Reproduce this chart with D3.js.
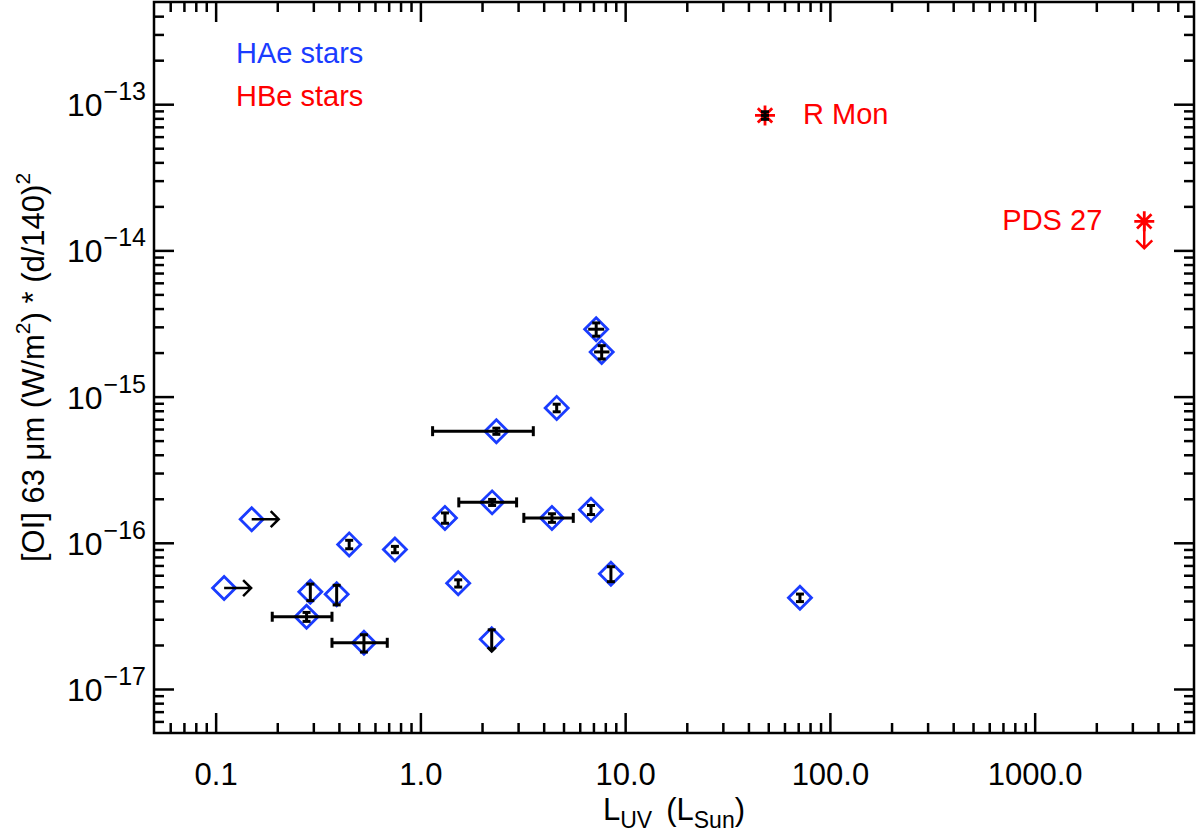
<!DOCTYPE html>
<html><head><meta charset="utf-8">
<script src="https://cdn.jsdelivr.net/npm/d3@7"></script>
<style>body{margin:0;background:#fff}svg text{font-family:"Liberation Sans",Arial,sans-serif}</style>
</head><body>
<svg id="c" width="1196" height="838"></svg>
<script>
// ---------- data ----------
const haeX    = [0.110, 0.150, 0.290, 0.278, 0.390, 0.449, 0.751, 0.530, 1.318, 1.53, 2.23, 2.24, 2.35, 4.39, 4.63, 6.81, 7.22, 7.68, 8.52, 71.4];
const haeY    = [4.9e-17, 1.45e-16, 4.62e-17, 3.12e-17, 4.44e-17, 9.75e-17, 9.0e-17, 2.07e-17, 1.48e-16, 5.28e-17, 2.19e-17, 1.89e-16, 5.80e-16, 1.48e-16, 8.37e-16, 1.68e-16, 2.89e-15, 2.02e-15, 6.14e-17, 4.21e-17];
const haeYErr = [0, 0, 0.6e-17, 0.22e-17, 0.68e-17, 0.65e-17, 0.45e-17, 0.28e-17, 0.12e-16, 0.3e-17, 0.35e-17, 0.09e-16, 0.28e-16, 0.1e-16, 0.5e-16, 0.12e-16, 0.3e-15, 0.21e-15, 0.72e-17, 0.25e-17];
const haeXLo  = [null, null, null, 0.189, null, null, null, 0.370, null, null, null, 1.54, 1.147, 3.20, null, null, 6.60, 7.05, null, null];
const haeXHi  = [null, null, null, 0.370, null, null, null, 0.689, null, null, null, 2.95, 3.56, 5.58, null, null, 7.90, 8.38, null, null];
const haeLimit = ["xlow", "xlow", "", "", "", "", "", "", "", "", "yup", "", "", "", "", "", "", "", "", ""];

const hbeNames = ["R Mon", "PDS 27"];
const hbeX     = [48.2, 3430];
const hbeY     = [8.38e-14, 1.58e-14];
const hbeYErr  = [0.5e-14, 0];
const hbeXLo   = [46.0, null];
const hbeXHi   = [50.4, null];
const hbeLimit = ["", "yup"];

const xMajor = [0.1, 1, 10, 100, 1000];
const xMajorLabels = ["0.1", "1.0", "10.0", "100.0", "1000.0"];
const yMajor = [1e-17, 1e-16, 1e-15, 1e-14, 1e-13];
const yMajorExp = ["−17", "−16", "−15", "−14", "−13"];
const legendLabels = ["HAe stars", "HBe stars"];

// ---------- layout ----------
const L = 154, R = 1194, T = 2, B = 733;
const blue = "#1a3cff", red = "#ff0000";
const svg = d3.select("#c");
const x = d3.scaleLog().domain([0.05, 6000]).range([L, R]);
const y = d3.scaleLog().domain([5e-18, 5e-13]).range([B, T]);

function minors(dom) {
  const out = [];
  for (let e = -20; e <= 5; e++) for (let m = 2; m <= 9; m++) {
    const v = m * Math.pow(10, e);
    if (v > dom[0] * 1.0001 && v < dom[1] * 0.9999) out.push(v);
  }
  return out;
}
const xMinor = minors(x.domain()), yMinor = minors(y.domain());

function styleAxis(g) {
  g.select(".domain").remove();
  g.selectAll("line").attr("stroke", "#000").attr("stroke-width", 2.5);
}
// bottom
svg.append("g").attr("transform", `translate(0,${B})`)
  .call(d3.axisBottom(x).tickValues(xMajor).tickSize(-20).tickFormat((d, i) => xMajorLabels[i]))
  .call(styleAxis)
  .call(g => g.selectAll("text").attr("y", 52).attr("dy", null).attr("font-size", 31).attr("fill", "#000"));
svg.append("g").attr("transform", `translate(0,${B})`)
  .call(d3.axisBottom(x).tickValues(xMinor).tickSize(-10).tickFormat("")).call(styleAxis);
// top
svg.append("g").attr("transform", `translate(0,${T})`)
  .call(d3.axisTop(x).tickValues(xMajor).tickSize(-20).tickFormat("")).call(styleAxis);
svg.append("g").attr("transform", `translate(0,${T})`)
  .call(d3.axisTop(x).tickValues(xMinor).tickSize(-10).tickFormat("")).call(styleAxis);
// left
svg.append("g").attr("transform", `translate(${L},0)`)
  .call(d3.axisLeft(y).tickValues(yMajor).tickSize(-20).tickFormat(""))
  .call(styleAxis);
svg.append("g").attr("transform", `translate(${L},0)`)
  .call(d3.axisLeft(y).tickValues(yMinor).tickSize(-10).tickFormat("")).call(styleAxis);
// right
svg.append("g").attr("transform", `translate(${R},0)`)
  .call(d3.axisRight(y).tickValues(yMajor).tickSize(-20).tickFormat("")).call(styleAxis);
svg.append("g").attr("transform", `translate(${R},0)`)
  .call(d3.axisRight(y).tickValues(yMinor).tickSize(-10).tickFormat("")).call(styleAxis);

// y tick labels with superscripts
yMajor.forEach((v, i) => {
  const t = svg.append("text").attr("x", 146).attr("y", y(v) + 12)
    .attr("text-anchor", "end").attr("font-size", 32).attr("fill", "#000");
  t.append("tspan").text("10");
  t.append("tspan").attr("dy", -16).attr("dx", 1).attr("font-size", 25).text(yMajorExp[i]);
});

// frame
svg.append("rect").attr("x", L).attr("y", T).attr("width", R - L).attr("height", B - T)
  .attr("fill", "none").attr("stroke", "#000").attr("stroke-width", 2.5);

// axis titles
const xt = svg.append("text").attr("x", (L + R) / 2).attr("y", 820)
  .attr("text-anchor", "middle").attr("font-size", 31).attr("fill", "#000");
xt.append("tspan").text("L");
xt.append("tspan").attr("dy", 8).attr("font-size", 23).text("UV");
xt.append("tspan").attr("dy", -8).attr("dx", 14).text("(L");
xt.append("tspan").attr("dy", 8).attr("font-size", 23).text("Sun");
xt.append("tspan").attr("dy", -8).text(")");

const yt = svg.append("text").attr("transform", `translate(44,${(T + B) / 2}) rotate(-90)`)
  .attr("text-anchor", "middle").attr("font-size", 31).attr("fill", "#000");
yt.append("tspan").text("[OI] 63 μm (W/m");
yt.append("tspan").attr("dy", -14).attr("font-size", 21).text("2");
yt.append("tspan").attr("dy", 14).text(") * (d/140)");
yt.append("tspan").attr("dy", -14).attr("font-size", 21).text("2");

// ---------- marks ----------
const plot = svg.append("g");
const diamond = d3.symbol().type(d3.symbolSquare).size(265);

function errorBars(g, xs, ys, yErr, xLo, xHi, flags) {
  xs.forEach((xv, i) => {
    const cx = x(xv), cy = y(ys[i]);
    if (yErr[i] > 0) {
      const y1 = y(ys[i] + yErr[i]);
      const y2 = flags[i] === "yup" ? cy + 12 : y(ys[i] - yErr[i]);
      g.append("line").attr("x1", cx).attr("x2", cx).attr("y1", y1).attr("y2", y2);
      g.append("line").attr("x1", cx - 4).attr("x2", cx + 4).attr("y1", y1).attr("y2", y1);
      if (flags[i] === "yup")
        g.append("path").attr("d", `M${cx - 4},${y2 - 4}L${cx},${y2}L${cx + 4},${y2 - 4}`);
      else
        g.append("line").attr("x1", cx - 4).attr("x2", cx + 4).attr("y1", y2).attr("y2", y2);
    }
    if (xLo[i] != null) {
      const x1 = x(xLo[i]), x2 = x(xHi[i]);
      g.append("line").attr("x1", x1).attr("x2", x2).attr("y1", cy).attr("y2", cy);
      if (x2 - x1 > 20) {
        g.append("line").attr("x1", x1).attr("x2", x1).attr("y1", cy - 5).attr("y2", cy + 5);
        g.append("line").attr("x1", x2).attr("x2", x2).attr("y1", cy - 5).attr("y2", cy + 5);
      }
    }
  });
  g.attr("stroke", "#000").attr("stroke-width", 3).attr("fill", "none");
}
function limits(g, xs, ys, yErr, flags, color) {
  xs.forEach((xv, i) => {
    const cx = x(xv), cy = y(ys[i]);
    if (flags[i] === "xlow") {
      g.append("path").attr("d", `M${cx},${cy}H${cx + 27}M${cx + 19},${cy - 8}L${cx + 27},${cy}L${cx + 19},${cy + 8}`);
    } else if (flags[i] === "yup" && !(yErr[i] > 0)) {
      g.append("path").attr("d", `M${cx},${cy}V${cy + 27}M${cx - 8},${cy + 19}L${cx},${cy + 27}L${cx + 8},${cy + 19}`);
    }
  });
  g.attr("stroke", color).attr("stroke-width", 2.5).attr("fill", "none");
}

// HAe diamonds
plot.append("g").selectAll("path").data(haeX).join("path")
  .attr("d", diamond)
  .attr("transform", (d, i) => `translate(${x(d)},${y(haeY[i])}) rotate(45)`)
  .attr("fill", "none").attr("stroke", blue).attr("stroke-width", 2.8);
errorBars(plot.append("g"), haeX, haeY, haeYErr, haeXLo, haeXHi, haeLimit);
limits(plot.append("g"), haeX, haeY, haeYErr, haeLimit, "#000");

// HBe asterisks
const ast = plot.append("g").attr("stroke", red).attr("stroke-width", 2.8);
hbeX.forEach((xv, i) => {
  const cx = x(xv), cy = y(hbeY[i]), r = 10;
  ast.append("path").attr("d",
    `M${cx - r},${cy}H${cx + r}M${cx},${cy - r}V${cy + r}M${cx - r * 0.72},${cy - r * 0.72}L${cx + r * 0.72},${cy + r * 0.72}M${cx - r * 0.72},${cy + r * 0.72}L${cx + r * 0.72},${cy - r * 0.72}`);
});
errorBars(plot.append("g"), hbeX, hbeY, hbeYErr, hbeXLo, hbeXHi, hbeLimit);
limits(plot.append("g"), hbeX, hbeY, hbeYErr, hbeLimit, red);

// HBe labels
svg.append("text").attr("x", x(hbeX[0]) + 38).attr("y", y(hbeY[0]) + 9)
  .attr("font-size", 29).attr("fill", red).text(hbeNames[0]);
svg.append("text").attr("x", x(hbeX[1]) - 42).attr("y", y(hbeY[1]) + 9)
  .attr("text-anchor", "end").attr("font-size", 29).attr("fill", red).text(hbeNames[1]);

// legend
svg.append("text").attr("x", 236).attr("y", 63).attr("font-size", 29).attr("fill", blue).text(legendLabels[0]);
svg.append("text").attr("x", 236).attr("y", 106).attr("font-size", 29).attr("fill", red).text(legendLabels[1]);
</script>
</body></html>
